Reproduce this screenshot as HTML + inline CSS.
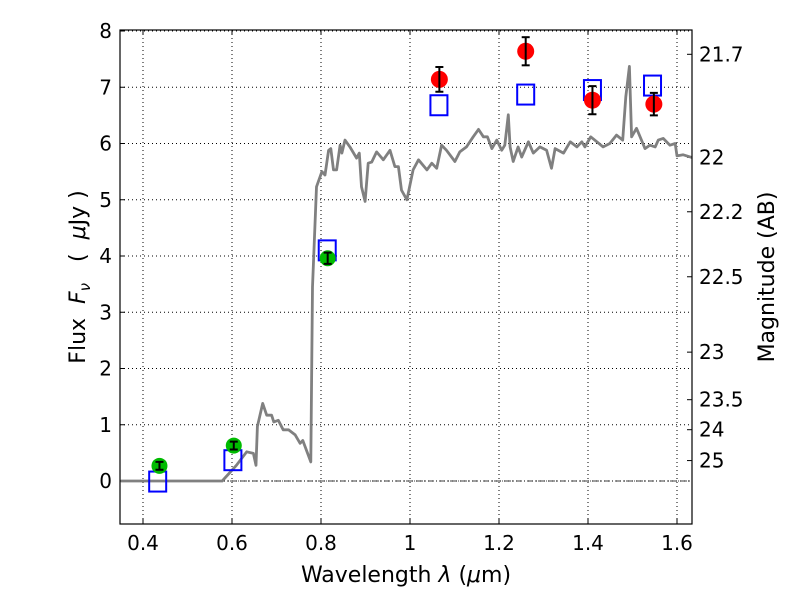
<!DOCTYPE html>
<html><head><meta charset="utf-8"><style>
body{margin:0;background:#fff}
svg{font-family:"DejaVu Sans","Liberation Sans",sans-serif}
</style></head><body>
<svg id="chart" width="800" height="600" xmlns="http://www.w3.org/2000/svg"></svg>
<script>
const specLam=[0.35,0.578,0.61,0.633,0.648,0.654,0.657,0.669,0.678,0.689,0.694,0.704,0.715,0.727,0.742,0.753,0.759,0.777,0.781,0.79,0.802,0.809,0.817,0.822,0.828,0.835,0.843,0.847,0.854,0.865,0.88,0.886,0.891,0.899,0.906,0.914,0.925,0.94,0.955,0.966,0.974,0.981,0.993,1.007,1.019,1.038,1.049,1.06,1.071,1.082,1.101,1.112,1.127,1.142,1.154,1.165,1.174,1.184,1.195,1.206,1.213,1.221,1.225,1.232,1.243,1.251,1.266,1.277,1.292,1.307,1.318,1.326,1.345,1.36,1.375,1.386,1.393,1.406,1.42,1.434,1.449,1.464,1.478,1.485,1.493,1.498,1.509,1.517,1.528,1.539,1.551,1.558,1.569,1.584,1.596,1.6,1.614,1.634];
const specFlux=[0,0,0.28,0.52,0.49,0.28,0.97,1.38,1.17,1.17,1.05,1.08,0.91,0.91,0.82,0.67,0.72,0.34,3.45,5.23,5.5,5.44,5.88,5.91,5.53,5.53,5.97,5.83,6.06,5.94,5.74,5.83,5.23,4.97,5.65,5.67,5.85,5.71,5.88,5.59,5.59,5.17,5.0,5.53,5.71,5.53,5.65,5.56,5.97,5.88,5.68,5.85,5.94,6.12,6.25,6.12,6.12,5.91,6.06,5.88,5.97,6.51,5.94,5.68,5.94,5.76,6.03,5.83,5.94,5.88,5.56,5.91,5.83,6.03,5.94,6.03,5.94,6.12,6.03,5.94,6.0,6.15,6.06,6.83,7.37,6.12,6.27,6.12,5.91,5.97,5.94,6.06,6.09,5.97,6.0,5.78,5.8,5.75];
const greenLam=[0.437,0.604,0.815];
const greenFlux=[0.27,0.63,3.96];
const greenErr=[0.07,0.07,0.1];
const redLam=[1.066,1.26,1.41,1.548];
const redFlux=[7.14,7.64,6.77,6.7];
const redErr=[0.22,0.25,0.25,0.2];
const modelLam=[0.433,0.602,0.814,1.065,1.26,1.41,1.545];
const modelFlux=[-0.01,0.37,4.1,6.68,6.87,6.95,7.03];
const xTicks=[0.4,0.6,0.8,1.0,1.2,1.4,1.6];
const xTickLabels=["0.4","0.6","0.8","1","1.2","1.4","1.6"];
const yTicks=[0,1,2,3,4,5,6,7,8];
const magTicks=[21.7,22,22.2,22.5,23,23.5,24,25];
const magLabels=["21.7","22","22.2","22.5","23","23.5","24","25"];

const L=120,R=692,T=30,B=524;
const X=v=>143+(v-0.4)/0.2*89;
const Y=v=>481-v*56.25;
const svg=document.getElementById('chart');
const NS='http://www.w3.org/2000/svg';
function mk(tag,attrs,parent){const e=document.createElementNS(NS,tag);for(const k in attrs)e.setAttribute(k,attrs[k]);(parent||svg).appendChild(e);return e;}

xTicks.forEach((v,i)=>{
 const g=mk('line',{x1:X(v),x2:X(v),y1:T,y2:B,stroke:'#000','stroke-width':1,'stroke-dasharray':'1,3'});
 
 
 mk('line',{x1:X(v),x2:X(v),y1:B,y2:B-5,stroke:'#000'});
 mk('line',{x1:X(v),x2:X(v),y1:T,y2:T+5,stroke:'#000'});
 const t=mk('text',{x:X(v),y:B+26,'text-anchor':'middle','font-size':20});
 t.textContent=xTickLabels[i];
 
 
});
yTicks.forEach(v=>{
 const g=mk('line',{x1:L,x2:R,y1:Y(v),y2:Y(v),stroke:'#000','stroke-width':1,'stroke-dasharray':'1,3'});
 
 
 mk('line',{x1:L,x2:L+5,y1:Y(v),y2:Y(v),stroke:'#000'});
 const t=mk('text',{x:L-8,y:Y(v)+7,'text-anchor':'end','font-size':20});
 t.textContent=String(v);
 
 
});
magTicks.forEach((m,i)=>{
 const f=Math.pow(10,(23.9-m)/2.5);
 const y=Y(f);
 mk('line',{x1:R,x2:R-5,y1:y,y2:y,stroke:'#000'});
 const t=mk('text',{x:R+7,y:y+7,'font-size':20});
 t.textContent=magLabels[i];
 
 
});
const z=mk('line',{x1:L,x2:R,y1:Y(0),y2:Y(0),stroke:'#000','stroke-width':0.8,'stroke-dasharray':'6,2,1,2'});



let d='';
specLam.forEach((l,i)=>{d+=(i?'L':'M')+X(l).toFixed(1)+','+Y(specFlux[i]).toFixed(1);});
const sp=mk('path',{d:d,fill:'none',stroke:'#808080','stroke-width':2.8,'stroke-linejoin':'round'});



modelLam.forEach((l,i)=>{
 const r=mk('rect',{x:X(l)-8.5,y:Y(modelFlux[i])-10,width:17,height:20,fill:'none',stroke:'#0000ff','stroke-width':2});
 
 
});
function pts(lams,fl,er,col,rad,name){
 lams.forEach((l,i)=>{
  const c=mk('circle',{cx:X(l),cy:Y(fl[i]),r:rad,fill:col});
  
  
  const x=X(l),y1=Y(fl[i]+er[i]),y2=Y(fl[i]-er[i]);
  mk('line',{x1:x,x2:x,y1:y1,y2:y2,stroke:'#000','stroke-width':2});
  mk('line',{x1:x-4,x2:x+4,y1:y1,y2:y1,stroke:'#000','stroke-width':2});
  mk('line',{x1:x-4,x2:x+4,y1:y2,y2:y2,stroke:'#000','stroke-width':2});
 });
}
pts(greenLam,greenFlux,greenErr,'#00bb00',8,'observed-point-optical');
pts(redLam,redFlux,redErr,'#ff0000',8.5,'observed-point-nir');

const f=mk('rect',{x:L,y:T,width:R-L,height:B-T,fill:'none',stroke:'#000','stroke-width':1.2});


</script>
<div style="position:absolute;left:0;top:0;width:800px;height:600px;pointer-events:none">
<svg width="800" height="600" style="position:absolute;left:0;top:0">
<text x="406" y="582" text-anchor="middle" font-size="22">Wavelength  <tspan font-style="italic">λ</tspan> (<tspan font-style="italic">μ</tspan>m)</text>
<text transform="translate(85,277) rotate(-90)" text-anchor="middle" font-size="22" xml:space="preserve">Flux  <tspan font-style="italic">F</tspan><tspan font-style="italic" font-size="15" dy="5">ν</tspan><tspan dy="-5">   (  </tspan><tspan font-style="italic">μ</tspan>Jy )</text>
<text transform="translate(774,277) rotate(-90)" text-anchor="middle" font-size="22">Magnitude (AB)</text>
</svg></div>
</body></html>
